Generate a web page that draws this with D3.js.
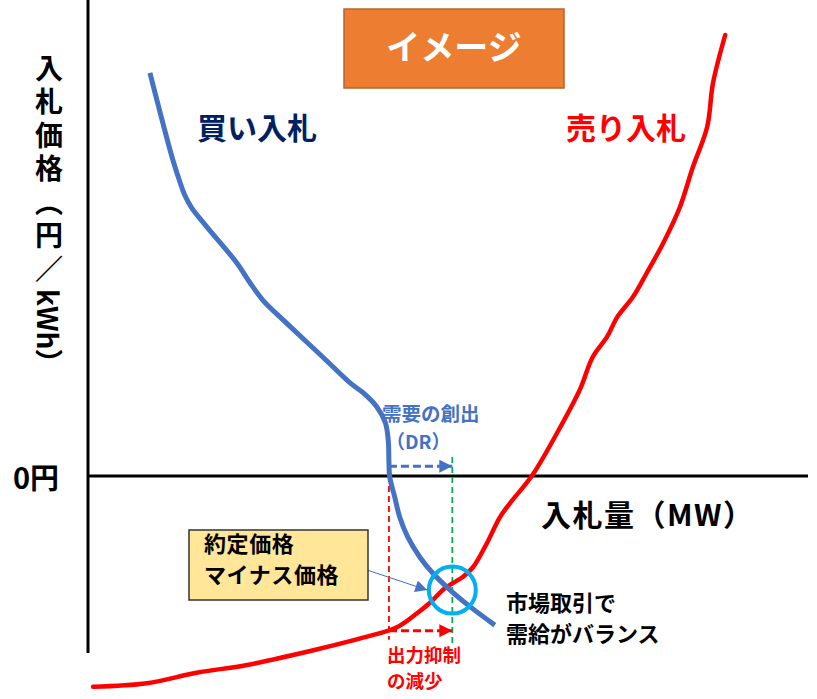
<!DOCTYPE html>
<html>
<head>
<meta charset="utf-8">
<script src="https://cdn.jsdelivr.net/npm/d3@7"></script>
<style>
  body { margin: 0; background: #fff; }
  text { font-family: "Noto Sans CJK JP", "Noto Sans", sans-serif; font-weight: bold; }
</style>
</head>
<body>
<div id="chart"></div>
<script>
// buy bids (demand curve): [MW, price]
const buyBids = [
  [8.6, 57.6], [11.8, 45.1], [12.8, 41.9], [13.4, 40.2], [14.4, 38.3], [16.5, 35.6],
  [20.7, 30.4], [22.5, 27.6], [24.3, 25.1], [27.1, 22.3], [32.6, 17.0], [36.4, 13.3],
  [38.2, 11.9], [40.1, 9.9], [41.3, 7.6], [41.7, 5.1], [41.8, 1.9], [41.9, -0.1],
  [42.6, -3.0], [43.3, -5.9], [44.4, -8.7], [46.1, -11.6], [47.9, -13.9], [50.3, -16.3],
  [53.1, -18.7], [56.5, -21.3]
];
// sell bids (supply curve): [MW, price]
const sellBids = [
  [0.7, -30.1], [8.2, -29.6], [15.1, -28.1], [22.1, -27.0], [31.3, -24.9], [38.2, -23.1],
  [42.9, -21.6], [45.7, -19.6], [47.5, -18.1], [49.6, -16.0], [52.1, -14.4], [53.5, -13.0],
  [55.4, -9.6], [57.2, -5.9], [58.6, -3.9], [61.7, 0.1], [65.6, 7.0], [68.3, 12.3],
  [70.1, 17.0], [72.1, 19.9], [73.5, 22.7], [75.7, 25.6], [77.6, 29.0], [79.9, 33.3],
  [82.2, 38.4], [84.0, 44.1], [86.0, 49.9], [86.8, 56.1], [88.5, 63.0]
];
// annotation points
const clearing = [50.6, -16.3];
const drShift = { from: 41.8, to: 50.6, price: 1.4 };
const curtailShift = { from: 41.8, to: 50.6, price: -22.1 };
const xDomain = [0, 100];
const yDomain = [-32, 68];

const W = 817, H = 699;
const svg = d3.select("#chart").append("svg")
  .attr("width", W).attr("height", H);

const x = d3.scaleLinear().domain(xDomain).range([88, 808]);
const y = d3.scaleLinear().domain(yDomain).range([700, 0]);

const defs = svg.append("defs");
function arrowHead(id, color, w, h) {
  defs.append("marker")
    .attr("id", id)
    .attr("viewBox", "0 0 10 10")
    .attr("refX", 10).attr("refY", 5)
    .attr("markerUnits", "userSpaceOnUse")
    .attr("markerWidth", w).attr("markerHeight", h)
    .attr("orient", "auto")
    .append("path").attr("d", "M0,0L10,5L0,10Z").attr("fill", color);
}
arrowHead("arrBlue", "#4472C4", 13, 16);
arrowHead("arrRed", "#FF0000", 13, 14);
arrowHead("arrThin", "#4472C4", 14, 12);

// axes
svg.append("line")
  .attr("x1", x(0)).attr("x2", x(0))
  .attr("y1", y(68)).attr("y2", y(-25.3))
  .attr("stroke", "#000").attr("stroke-width", 3);
svg.append("line")
  .attr("x1", x(0)).attr("x2", x(100))
  .attr("y1", y(0)).attr("y2", y(0))
  .attr("stroke", "#000").attr("stroke-width", 3);

// guide lines
svg.append("line")
  .attr("x1", x(drShift.from)).attr("x2", x(drShift.from))
  .attr("y1", y(0)).attr("y2", y(-23.4))
  .attr("stroke", "#FF0000").attr("stroke-width", 1.8)
  .attr("stroke-dasharray", "6,4");
svg.append("line")
  .attr("x1", x(drShift.to)).attr("x2", x(drShift.to))
  .attr("y1", y(2.7)).attr("y2", y(-24.1))
  .attr("stroke", "#00B050").attr("stroke-width", 1.8)
  .attr("stroke-dasharray", "6,4");

const line = d3.line()
  .x(d => x(d[0])).y(d => y(d[1]))
  .curve(d3.curveCatmullRom);

svg.append("path").datum(sellBids)
  .attr("d", line).attr("fill", "none")
  .attr("stroke", "#FF0000").attr("stroke-width", 4.5)
  .attr("stroke-linecap", "round");
svg.append("path").datum(buyBids)
  .attr("d", line).attr("fill", "none")
  .attr("stroke", "#4472C4").attr("stroke-width", 5);

// shift arrows
svg.append("line")
  .attr("x1", x(drShift.from)).attr("x2", x(drShift.to))
  .attr("y1", y(drShift.price)).attr("y2", y(drShift.price))
  .attr("stroke", "#4472C4").attr("stroke-width", 3)
  .attr("stroke-dasharray", "8,4")
  .attr("marker-end", "url(#arrBlue)");
svg.append("line")
  .attr("x1", x(curtailShift.from)).attr("x2", x(curtailShift.to))
  .attr("y1", y(curtailShift.price)).attr("y2", y(curtailShift.price))
  .attr("stroke", "#FF0000").attr("stroke-width", 3)
  .attr("stroke-dasharray", "8,4")
  .attr("marker-end", "url(#arrRed)");

// clearing point circle
svg.append("circle")
  .attr("cx", x(clearing[0])).attr("cy", y(clearing[1]))
  .attr("r", 23.5)
  .attr("fill", "none").attr("stroke", "#00B0F0").attr("stroke-width", 4);

// callout
svg.append("line")
  .attr("x1", 367).attr("y1", 570)
  .attr("x2", x(clearing[0]) - 25).attr("y2", y(clearing[1]))
  .attr("stroke", "#4472C4").attr("stroke-width", 1)
  .attr("marker-end", "url(#arrThin)");
svg.append("rect")
  .attr("x", 189).attr("y", 530).attr("width", 179).attr("height", 70)
  .attr("fill", "#FFE699").attr("stroke", "#333").attr("stroke-width", 1.5);
svg.append("text").attr("x", 204).attr("y", 552)
  .attr("font-size", 22).attr("fill", "#000")
  .style("letter-spacing", "0.6px").text("約定価格");
svg.append("text").attr("x", 204).attr("y", 583)
  .attr("font-size", 22).attr("fill", "#000")
  .style("letter-spacing", "0.6px").text("マイナス価格");

// title box
svg.append("rect")
  .attr("x", 344).attr("y", 9).attr("width", 220).attr("height", 79)
  .attr("fill", "#ED7D31").attr("stroke", "#B7652A").attr("stroke-width", 1.5);
svg.append("text")
  .attr("x", 454).attr("y", 60).attr("text-anchor", "middle")
  .attr("font-size", 34).attr("fill", "#fff").text("イメージ");

// labels
svg.append("text").attr("x", 197).attr("y", 139)
  .attr("font-size", 30).attr("fill", "#002060").text("買い入札");
svg.append("text").attr("x", 566).attr("y", 139)
  .attr("font-size", 30).attr("fill", "#FF0000").text("売り入札");

const yLabel = svg.append("text")
  .attr("x", 49).attr("y", 54)
  .attr("font-size", 28).attr("fill", "#000")
  .style("writing-mode", "vertical-rl");
yLabel.append("tspan").style("letter-spacing", "5.5px").text("入札価格（円／");
yLabel.append("tspan").style("letter-spacing", "0px").text("kWh）");

svg.append("text").attr("x", 13).attr("y", 489)
  .attr("font-size", 29).attr("fill", "#000").text("0円");
svg.append("text").attr("x", 541).attr("y", 526)
  .attr("font-size", 30).attr("fill", "#000")
  .style("letter-spacing", "1.5px").text("入札量（MW）");

svg.append("text").attr("x", 382).attr("y", 421)
  .attr("font-size", 19.5).attr("fill", "#4472C4").text("需要の創出");
svg.append("text").attr("x", 386).attr("y", 449)
  .attr("font-size", 19).attr("fill", "#4472C4").text("（DR）");

svg.append("text").attr("x", 506).attr("y", 611)
  .attr("font-size", 22).attr("fill", "#000").text("市場取引で");
svg.append("text").attr("x", 506).attr("y", 642)
  .attr("font-size", 22).attr("fill", "#000").text("需給がバランス");

svg.append("text").attr("x", 387).attr("y", 662)
  .attr("font-size", 18.5).attr("fill", "#FF0000").text("出力抑制");
svg.append("text").attr("x", 387).attr("y", 688)
  .attr("font-size", 18.5).attr("fill", "#FF0000").text("の減少");
</script>
</body>
</html>
